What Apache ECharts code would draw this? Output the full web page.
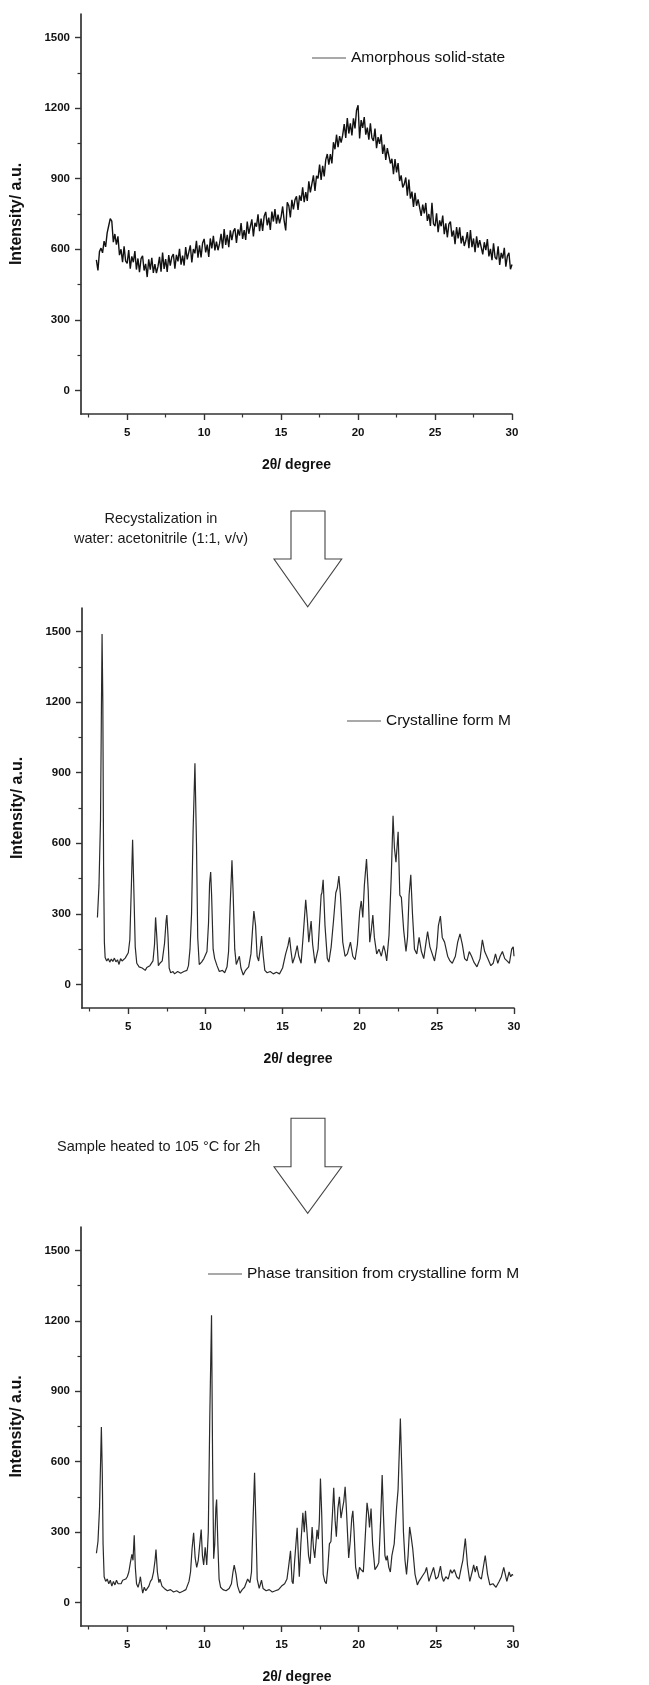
<!DOCTYPE html>
<html>
<head>
<meta charset="utf-8">
<script src="https://cdn.jsdelivr.net/npm/echarts@6/dist/echarts.min.js"></script>
<style>html,body{margin:0;padding:0;background:#fff}#c{width:649px;height:1685px}</style>
</head>
<body>
<div id="c"></div>
<script>
// ---------------- DATA ----------------
const seriesNames = ['Amorphous solid-state', 'Crystalline form M', 'Phase transition from crystalline form M'];
const xAxisTitle = '2\u03b8/ degree';
const yAxisTitle = 'Intensity/ a.u.';
const xTickLabels = [5, 10, 15, 20, 25, 30];
const xMinorTicks = [2.5, 7.5, 12.5, 17.5, 22.5, 27.5];
const yTickLabels = [0, 300, 600, 900, 1200, 1500];
const yMinorTicks = [150, 450, 750, 1050, 1350];
const annotation1 = 'Recystalization in\nwater: acetonitrile (1:1, v/v)';
const annotation2 = 'Sample heated to 105 \u00b0C for 2h';

// amorphous: 2theta from 3.0 to 30.0, step 0.1
const amorphousStart = 3.0;
const amorphousStep = 0.1;
const amorphousY = [
 555,510,590,605,585,635,610,670,700,730,
 720,630,665,620,655,575,600,545,613,550,
 540,597,518,570,545,592,514,561,503,560,
 572,510,538,482,557,513,564,500,537,499,
 526,568,505,586,517,558,504,575,531,568,
 580,518,576,549,602,535,573,531,609,557,
 555,617,544,601,583,636,564,617,565,627,
 644,587,620,568,646,604,657,595,633,596,
 624,666,604,686,619,661,609,681,639,676,
 689,627,685,658,711,644,682,640,718,666,
 664,727,655,713,696,749,677,730,678,741,
 759,702,735,682,760,718,771,709,747,710,
 738,782,721,680,800,785,735,810,770,810,
 825,767,829,806,863,800,843,806,889,842,
 845,914,848,912,901,960,895,955,910,980,
 1005,960,1005,965,1055,1025,1087,1034,1081,1053,
 1085,1132,1073,1158,1092,1135,1084,1157,1114,1191,
 1212,1071,1149,1116,1162,1087,1117,1066,1135,1073,
 1061,1113,1030,1077,1048,1089,1005,1045,980,1030,
 1035,965,985,919,983,927,966,890,914,863,
 877,905,828,896,815,845,780,840,785,812,
 814,742,790,753,797,721,750,699,798,708,
 698,753,673,723,698,743,664,710,651,707,
 718,654,680,622,694,646,693,625,657,614,
 636,673,605,682,609,646,588,655,607,639,
 646,578,630,596,643,570,602,554,625,566,
 557,613,534,585,561,606,526,571,585,515,
 535
];

const crystalM = [
 [3.0,285],[3.1,420],[3.2,700],[3.25,1100],[3.3,1490],[3.35,1200],[3.4,500],[3.45,180],[3.5,115],[3.6,100],
 [3.7,110],[3.8,95],[3.9,108],[4.0,98],[4.1,112],[4.2,96],[4.3,105],[4.4,85],[4.5,110],[4.6,100],
 [4.7,95],[4.8,112],[4.9,120],[5.0,135],[5.1,190],[5.2,420],[5.28,615],[5.35,430],[5.45,160],[5.55,90],
 [5.7,75],[5.8,82],[5.9,70],[6.0,65],[6.1,60],[6.2,72],[6.3,70],[6.4,80],[6.5,78],[6.6,100],
 [6.7,170],[6.77,285],[6.85,200],[6.95,80],[7.05,90],[7.2,100],[7.35,175],[7.45,270],[7.5,295],[7.58,200],
 [7.65,70],[7.75,50],[7.9,55],[8.0,45],[8.2,55],[8.4,48],[8.6,55],[8.8,60],[8.9,80],[9.0,150],
 [9.1,300],[9.2,650],[9.32,940],[9.42,600],[9.5,200],[9.6,85],[9.75,95],[9.9,110],[10.0,115],[10.1,140],
 [10.2,260],[10.27,430],[10.34,478],[10.4,380],[10.5,150],[10.6,110],[10.75,80],[10.9,55],[11.0,50],[11.1,60],
 [11.25,50],[11.4,75],[11.5,140],[11.6,330],[11.72,528],[11.8,380],[11.9,150],[12.0,85],[12.1,90],[12.2,120],
 [12.3,70],[12.45,40],[12.6,60],[12.8,75],[12.95,130],[13.05,230],[13.14,312],[13.25,250],[13.35,120],[13.45,100],
 [13.55,150],[13.64,206],[13.75,120],[13.85,60],[14.0,50],[14.2,55],[14.4,45],[14.6,52],[14.8,45],[15.0,70],
 [15.2,130],[15.35,165],[15.45,200],[15.55,140],[15.65,90],[15.8,120],[15.95,165],[16.05,120],[16.2,90],[16.35,220],
 [16.5,360],[16.6,280],[16.7,180],[16.85,270],[16.95,170],[17.1,90],[17.3,150],[17.5,380],[17.55,390],[17.63,445],
 [17.75,250],[17.9,110],[18.0,95],[18.15,160],[18.3,270],[18.45,390],[18.55,410],[18.65,461],[18.75,380],[18.9,180],
 [19.05,120],[19.2,130],[19.4,180],[19.55,120],[19.7,105],[19.85,170],[20.0,310],[20.1,355],[20.2,285],[20.3,420],
 [20.44,533],[20.55,400],[20.65,180],[20.75,230],[20.85,295],[20.95,200],[21.1,130],[21.25,150],[21.4,120],[21.55,165],
 [21.65,140],[21.75,100],[21.9,210],[22.05,470],[22.16,717],[22.25,580],[22.35,520],[22.49,649],[22.6,380],[22.7,370],
 [22.85,230],[23.0,140],[23.1,200],[23.2,380],[23.31,466],[23.42,300],[23.55,150],[23.7,130],[23.85,200],[24.0,140],
 [24.15,110],[24.3,180],[24.4,225],[24.55,160],[24.7,130],[24.85,100],[25.0,160],[25.1,250],[25.23,291],[25.35,200],
 [25.5,180],[25.7,120],[25.85,100],[26.0,90],[26.2,120],[26.35,180],[26.5,215],[26.65,170],[26.8,110],[26.95,100],
 [27.1,140],[27.25,120],[27.4,95],[27.6,75],[27.8,110],[27.95,190],[28.1,140],[28.3,110],[28.5,80],[28.65,90],
 [28.8,130],[28.95,90],[29.1,120],[29.25,140],[29.4,110],[29.55,100],[29.7,90],[29.85,150],[29.95,160],[30.0,120]
];

const phaseTransition = [
 [3.0,210],[3.1,260],[3.2,400],[3.27,600],[3.32,748],[3.38,550],[3.43,250],[3.5,110],[3.6,90],[3.7,100],
 [3.8,80],[3.9,95],[4.0,70],[4.1,90],[4.2,75],[4.3,95],[4.4,80],[4.5,85],[4.6,80],[4.7,95],
 [4.8,90],[4.9,100],[5.0,110],[5.1,130],[5.2,170],[5.3,205],[5.37,180],[5.45,287],[5.52,150],[5.6,80],
 [5.7,65],[5.8,90],[5.85,110],[5.95,60],[6.0,40],[6.1,65],[6.2,50],[6.3,60],[6.4,70],[6.5,90],
 [6.6,100],[6.7,130],[6.8,180],[6.86,226],[6.95,130],[7.05,85],[7.12,100],[7.25,70],[7.4,60],[7.6,50],
 [7.8,55],[8.0,45],[8.2,50],[8.4,42],[8.6,48],[8.8,55],[9.0,90],[9.1,130],[9.2,230],[9.3,297],
 [9.4,190],[9.5,150],[9.6,180],[9.7,250],[9.79,311],[9.87,200],[9.95,160],[10.05,235],[10.15,160],[10.25,300],
 [10.35,800],[10.46,1224],[10.53,600],[10.6,187],[10.67,250],[10.74,400],[10.79,439],[10.87,250],[10.95,100],[11.05,65],
 [11.2,55],[11.4,50],[11.6,60],[11.75,80],[11.85,130],[11.93,159],[12.05,120],[12.15,70],[12.3,40],[12.45,55],
 [12.6,65],[12.8,100],[12.95,85],[13.05,130],[13.15,350],[13.25,553],[13.33,350],[13.42,100],[13.55,60],[13.7,95],
 [13.8,60],[14.0,50],[14.2,55],[14.4,45],[14.6,50],[14.8,55],[15.0,70],[15.2,80],[15.35,100],[15.45,150],
 [15.58,220],[15.68,90],[15.75,80],[15.85,180],[16.01,318],[16.1,180],[16.15,110],[16.25,250],[16.38,382],[16.47,300],
 [16.55,391],[16.65,300],[16.75,200],[16.85,165],[16.98,322],[17.07,230],[17.15,190],[17.3,310],[17.38,270],[17.45,350],
 [17.52,528],[17.6,380],[17.7,120],[17.8,90],[17.9,80],[18.0,150],[18.1,250],[18.2,260],[18.3,380],[18.38,489],
 [18.47,350],[18.55,280],[18.65,400],[18.75,450],[18.85,360],[18.95,400],[19.03,430],[19.12,493],[19.2,400],[19.35,190],
 [19.45,260],[19.55,360],[19.62,391],[19.7,300],[19.8,150],[19.95,100],[20.05,150],[20.15,140],[20.3,130],[20.4,250],
 [20.54,425],[20.63,380],[20.7,320],[20.8,400],[20.9,250],[21.05,140],[21.2,155],[21.3,170],[21.42,350],[21.52,543],
 [21.6,380],[21.7,200],[21.78,180],[21.85,200],[21.95,150],[22.05,130],[22.15,200],[22.3,250],[22.45,400],[22.55,480],
 [22.7,784],[22.8,550],[22.9,300],[23.0,180],[23.1,120],[23.2,200],[23.3,322],[23.4,280],[23.5,230],[23.65,120],
 [23.8,75],[23.9,90],[24.0,100],[24.15,115],[24.3,130],[24.4,150],[24.55,90],[24.7,120],[24.85,150],[25.0,100],
 [25.15,110],[25.3,155],[25.4,110],[25.5,90],[25.65,110],[25.8,100],[25.95,140],[26.05,125],[26.2,140],[26.35,110],
 [26.5,100],[26.65,150],[26.75,180],[26.91,273],[27.05,160],[27.2,90],[27.35,130],[27.45,160],[27.55,130],[27.65,155],
 [27.8,110],[27.95,100],[28.1,160],[28.2,200],[28.35,120],[28.5,75],[28.7,80],[28.9,65],[29.1,90],[29.25,110],
 [29.4,150],[29.5,120],[29.6,90],[29.75,130],[29.85,110],[29.95,120],[30.0,115]
];

// ---------------- CHART ----------------
const FONT = '"Liberation Sans", Arial, sans-serif';
const AX = '#333';
const amorphousData = amorphousY.map((v, i) => [+(amorphousStart + i * amorphousStep).toFixed(2), v]);
const allData = [amorphousData, crystalM, phaseTransition];

const grids = [
  {left: 81, top: 14, width: 431, height: 400},
  {left: 82, top: 608, width: 432, height: 400},
  {left: 81, top: 1227, width: 432, height: 400}
];
const legendPos = [
  {left: 312, top: 49},
  {left: 347, top: 712},
  {left: 208, top: 1265}
];

const xAxes = [], yAxes = [], series = [], legends = [];
grids.forEach((g, i) => {
  xAxes.push({
    type: 'value', gridIndex: i, min: 2, max: 30,
    name: xAxisTitle, nameLocation: 'middle', nameGap: 44,
    nameTextStyle: {fontFamily: FONT, fontWeight: 'bold', fontSize: 14, color: '#111'},
    axisLine: {show: true, onZero: false, lineStyle: {color: AX, width: 1.7}},
    axisTick: {show: true, inside: false, length: 6, customValues: xTickLabels, lineStyle: {color: AX, width: 1.4}},
    axisLabel: {show: true, customValues: xTickLabels, margin: 13, fontFamily: FONT, fontWeight: 'bold', fontSize: 11.5, color: '#111', formatter: v => String(v)},
    splitLine: {show: false}
  });
  xAxes.push({
    type: 'value', gridIndex: i, min: 2, max: 30, position: 'bottom',
    axisLine: {show: false, onZero: false},
    axisTick: {show: true, inside: false, length: 3.5, customValues: xMinorTicks, lineStyle: {color: AX, width: 1.2}},
    axisLabel: {show: false},
    splitLine: {show: false}
  });
  yAxes.push({
    type: 'value', gridIndex: i, min: -100, max: 1600,
    name: yAxisTitle, nameLocation: 'middle', nameGap: 56,
    nameTextStyle: {fontFamily: FONT, fontWeight: 'bold', fontSize: 16, color: '#111'},
    axisLine: {show: true, onZero: false, lineStyle: {color: AX, width: 1.7}},
    axisTick: {show: true, inside: false, length: 6, customValues: yTickLabels, lineStyle: {color: AX, width: 1.4}},
    axisLabel: {show: true, customValues: yTickLabels, margin: 11, fontFamily: FONT, fontWeight: 'bold', fontSize: 11.5, color: '#111', formatter: v => String(v)},
    splitLine: {show: false}
  });
  yAxes.push({
    type: 'value', gridIndex: i, min: -100, max: 1600, position: 'left',
    axisLine: {show: false, onZero: false},
    axisTick: {show: true, inside: false, length: 3.5, customValues: yMinorTicks, lineStyle: {color: AX, width: 1.2}},
    axisLabel: {show: false},
    splitLine: {show: false}
  });
  series.push({
    name: seriesNames[i], type: 'line',
    xAxisIndex: i * 2, yAxisIndex: i * 2,
    data: allData[i], showSymbol: false, symbol: 'none',
    lineStyle: {color: i === 0 ? '#111' : '#2a2a2a', width: i === 0 ? 1.4 : 1.2},
    itemStyle: {color: '#555'},
    animation: false
  });
  legends.push({
    data: [seriesNames[i]], left: legendPos[i].left, top: legendPos[i].top,
    padding: 0, icon: 'rect', itemWidth: 34, itemHeight: 1.2,
    textStyle: {fontFamily: FONT, fontSize: 15.5, color: '#111', lineHeight: 18},
    selectedMode: false
  });
});

function arrow(topY, headY, tipY) {
  return {
    type: 'polygon',
    shape: {points: [[291, topY], [325, topY], [325, headY], [341.7, headY], [307.7, tipY], [274, headY], [291, headY]]},
    style: {fill: '#fff', stroke: '#444', lineWidth: 1.1}
  };
}

const option = {
  animation: false,
  backgroundColor: '#fff',
  grid: grids,
  xAxis: xAxes,
  yAxis: yAxes,
  legend: legends,
  series: series,
  graphic: [
    arrow(511, 559, 606.7),
    arrow(1118.3, 1166.7, 1213.3),
    {type: 'text', x: 161, y: 509, style: {text: annotation1, font: '14.5px ' + FONT, fill: '#1a1a1a', align: 'center', verticalAlign: 'top', lineHeight: 20}},
    {type: 'text', x: 57, y: 1138, style: {text: annotation2, font: '14.5px ' + FONT, fill: '#1a1a1a', verticalAlign: 'top', lineHeight: 18}}
  ]
};

const chart = echarts.init(document.getElementById('c'), null, {renderer: 'canvas'});
chart.setOption(option);
</script>
</body>
</html>
